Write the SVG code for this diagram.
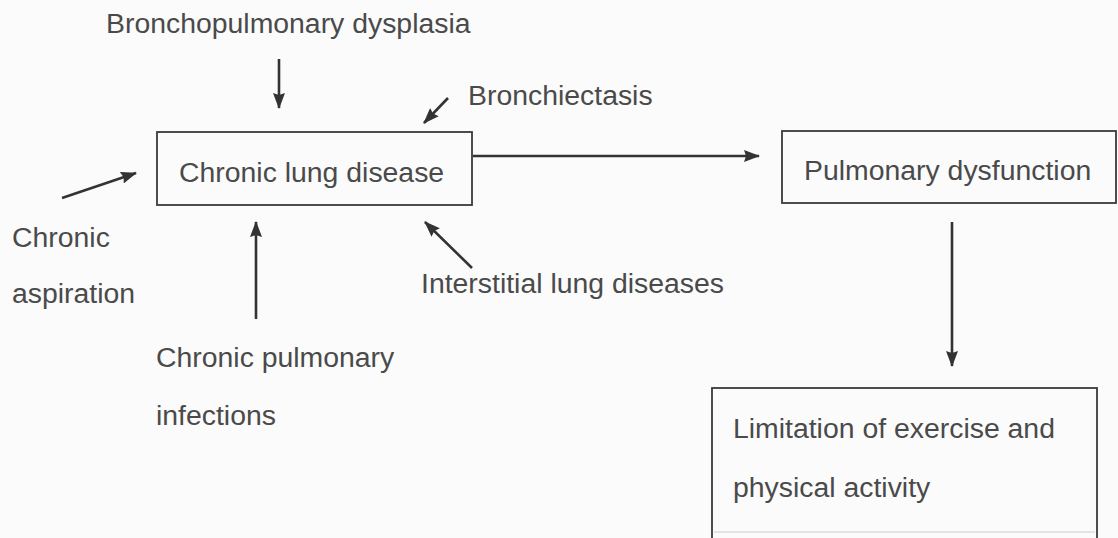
<svg xmlns="http://www.w3.org/2000/svg" width="1118" height="538" viewBox="0 0 1118 538">
<defs>
<style>
.t{font-family:"Liberation Sans",Arial,sans-serif;font-size:28.4px;fill:#4a4a4a}
.b{fill:none;stroke:#3a3a3a;stroke-width:1.8}
.c{stroke:#333;stroke-width:2.6;fill:none;marker-end:url(#ah)}
</style>
<marker id="ah" markerUnits="userSpaceOnUse" markerWidth="16" markerHeight="12" refX="15" refY="6" orient="auto">
<path d="M0,0 L16,6 L0,12 L2,6 Z" fill="#333"/>
</marker>
</defs>
<rect width="1118" height="538" fill="#fbfbfb"/>
<g id="n-bpd"><text class="t" x="106" y="33">Bronchopulmonary dysplasia</text></g>
<g id="n-bronchiectasis"><text class="t" x="468" y="105">Bronchiectasis</text></g>
<g id="n-aspiration"><text class="t" x="12" y="247">Chronic</text><text class="t" x="12" y="303">aspiration</text></g>
<g id="n-infections"><text class="t" x="156" y="367">Chronic pulmonary</text><text class="t" x="156" y="425">infections</text></g>
<g id="n-interstitial"><text class="t" x="421" y="293">Interstitial lung diseases</text></g>
<g id="n-cld"><rect class="b" x="157" y="132" width="315" height="73"/><text class="t" x="179" y="182">Chronic lung disease</text></g>
<g id="n-pd"><rect class="b" x="782" y="131" width="334" height="72"/><text class="t" x="804" y="180">Pulmonary dysfunction</text></g>
<g id="n-lim"><rect class="b" x="712" y="388" width="385" height="160"/><line x1="714" y1="532" x2="1095" y2="532" stroke="#ccc" stroke-width="1"/><text class="t" x="733" y="438">Limitation of exercise and</text><text class="t" x="733" y="497">physical activity</text></g>
<g id="connectors">
<line class="c" x1="279" y1="59" x2="279" y2="108"/>
<line class="c" x1="448" y1="98" x2="424" y2="123"/>
<line class="c" x1="62" y1="198" x2="136" y2="173"/>
<line class="c" x1="256" y1="319" x2="256" y2="222"/>
<line class="c" x1="472" y1="268" x2="425" y2="222"/>
<line class="c" x1="473" y1="156" x2="759" y2="156"/>
<line class="c" x1="952" y1="222" x2="952" y2="366"/>
</g>
</svg>
